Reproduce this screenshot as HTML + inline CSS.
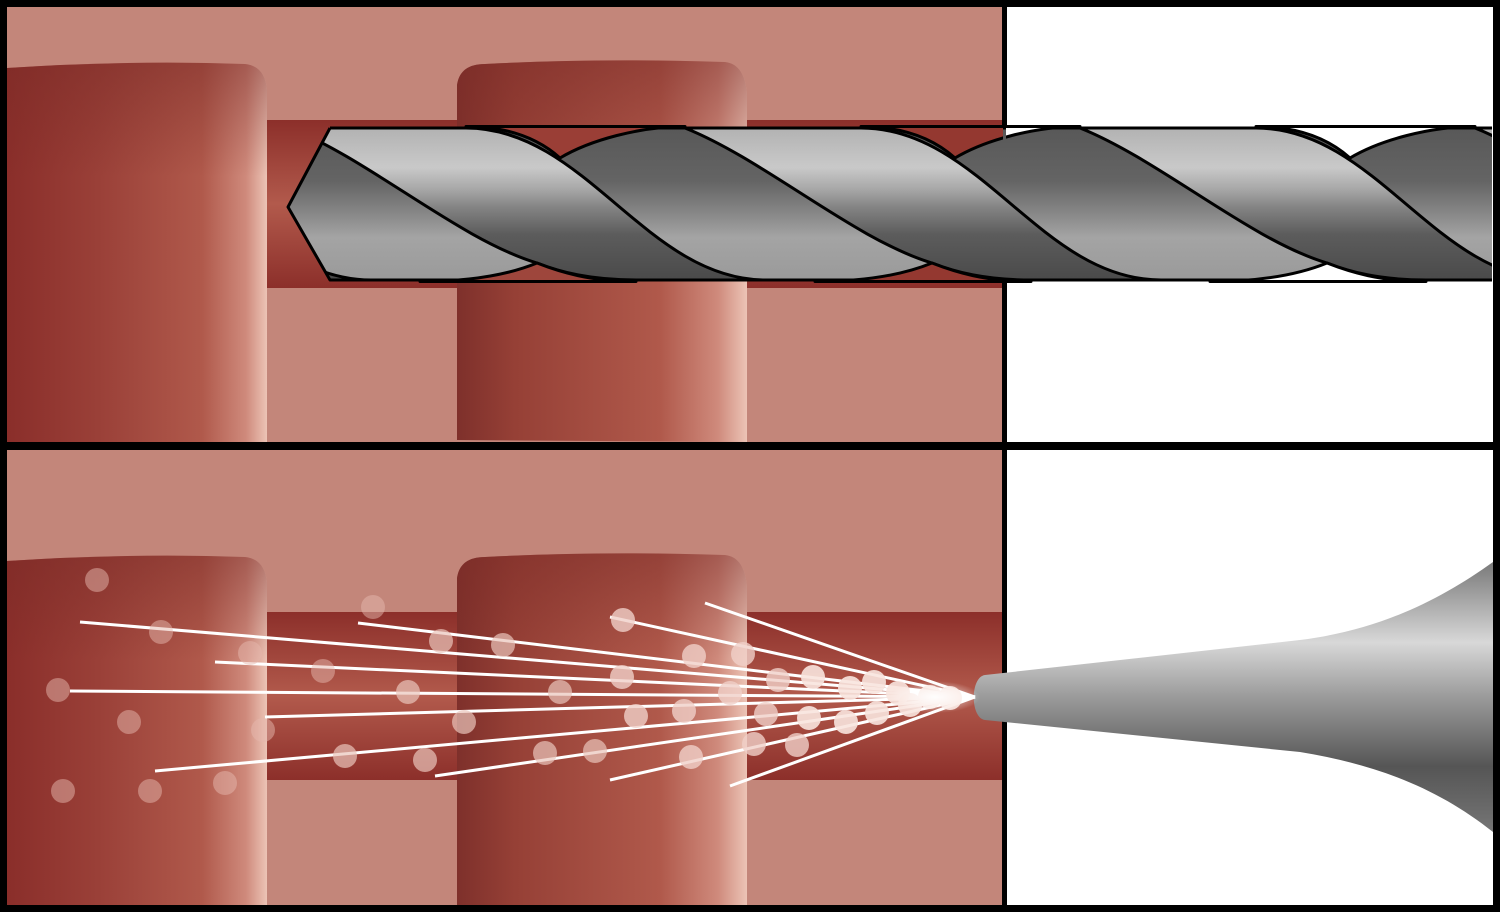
<!DOCTYPE html>
<html><head><meta charset="utf-8"><style>html,body{margin:0;padding:0;background:#000}svg{display:block}</style></head>
<body>
<svg width="1500" height="912" viewBox="0 0 1500 912" xmlns="http://www.w3.org/2000/svg">
<defs>
<linearGradient id="blk" x1="0" x2="1" y1="0" y2="0">
<stop offset="0" stop-color="#8a2e2a"/><stop offset="0.35" stop-color="#9a4038"/><stop offset="0.75" stop-color="#b0594b"/><stop offset="0.92" stop-color="#cf8a7c"/><stop offset="1" stop-color="#ecc4b6"/></linearGradient>
<linearGradient id="blk2" x1="0" x2="1" y1="0" y2="0">
<stop offset="0" stop-color="#7e302b"/><stop offset="0.2" stop-color="#964036"/><stop offset="0.7" stop-color="#b0594b"/><stop offset="0.9" stop-color="#cf8a7c"/><stop offset="1" stop-color="#ecc4b6"/></linearGradient>
<linearGradient id="topfade" x1="0" x2="0" y1="0" y2="1">
<stop offset="0" stop-color="#7a2a26" stop-opacity="0.5"/><stop offset="0.3" stop-color="#7a2a26" stop-opacity="0"/></linearGradient>
<linearGradient id="chan" x1="0" x2="0" y1="0" y2="1">
<stop offset="0" stop-color="#8c2f2a"/><stop offset="0.5" stop-color="#b25a4c"/><stop offset="1" stop-color="#8c2f2a"/></linearGradient>
<linearGradient id="lt" x1="0" x2="0" y1="128" y2="280" gradientUnits="userSpaceOnUse">
<stop offset="0" stop-color="#b2b2b2"/><stop offset="0.26" stop-color="#c9c9c9"/><stop offset="0.4" stop-color="#a8a8a8"/><stop offset="0.52" stop-color="#848484"/><stop offset="0.7" stop-color="#5c5c5c"/><stop offset="1" stop-color="#4a4a4a"/></linearGradient>
<linearGradient id="dk" x1="0" x2="0" y1="128" y2="280" gradientUnits="userSpaceOnUse">
<stop offset="0" stop-color="#585858"/><stop offset="0.35" stop-color="#646464"/><stop offset="0.55" stop-color="#858585"/><stop offset="0.72" stop-color="#a4a4a4"/><stop offset="1" stop-color="#9a9a9a"/></linearGradient>
<linearGradient id="noz" x1="0" x2="0" y1="560" y2="835" gradientUnits="userSpaceOnUse">
<stop offset="0" stop-color="#777"/><stop offset="0.3" stop-color="#d8d8d8"/><stop offset="0.5" stop-color="#9a9a9a"/><stop offset="0.75" stop-color="#555"/><stop offset="1" stop-color="#777"/></linearGradient>
<radialGradient id="glow" cx="0.5" cy="0.5" r="0.5">
<stop offset="0" stop-color="#fff" stop-opacity="0.95"/><stop offset="1" stop-color="#fff" stop-opacity="0"/></radialGradient>
<clipPath id="drill"><path d="M330,128 L1492,128 L1492,280 L330,280 L288,207 Z"/></clipPath>
<clipPath id="cl"><rect x="0" y="0" width="1003" height="450"/></clipPath>
<clipPath id="cr"><rect x="1006" y="0" width="487" height="450"/></clipPath>
</defs>
<rect width="1500" height="912" fill="#000"/>
<!-- top panel -->
<rect x="7" y="7" width="995" height="435" fill="#c3867a"/>
<rect x="1007" y="7" width="486" height="435" fill="#fff"/>
<rect x="260" y="120" width="744" height="168" fill="url(#chan)"/>
<path d="M7,68 Q130,60 245,64 Q265,66 267,90 L267,442 L7,442 Z" fill="url(#blk)"/>
<path d="M7,68 Q130,60 245,64 Q265,66 267,90 L267,442 L7,442 Z" fill="url(#topfade)"/>
<path d="M457,440 L457,85 Q460,64 485,64 Q600,58 725,62 Q745,64 747,95 L747,442 Z" fill="url(#blk2)"/>
<path d="M457,440 L457,85 Q460,64 485,64 Q600,58 725,62 Q745,64 747,95 L747,442 Z" fill="url(#topfade)"/>
<!-- bottom panel -->
<rect x="7" y="450" width="995" height="455" fill="#c3867a"/>
<rect x="1007" y="450" width="486" height="455" fill="#fff"/>
<rect x="260" y="612" width="744" height="168" fill="url(#chan)"/>
<path d="M7,561 Q130,553 245,557 Q265,559 267,583 L267,905 L7,905 Z" fill="url(#blk)"/>
<path d="M7,561 Q130,553 245,557 Q265,559 267,583 L267,905 L7,905 Z" fill="url(#topfade)"/>
<path d="M457,905 L457,578 Q460,557 485,557 Q600,551 725,555 Q745,557 747,588 L747,905 Z" fill="url(#blk2)"/>
<path d="M457,905 L457,578 Q460,557 485,557 Q600,551 725,555 Q745,557 747,588 L747,905 Z" fill="url(#topfade)"/>
<!-- dividers -->
<rect x="1002" y="0" width="5" height="912" fill="#000"/>
<rect x="0" y="442" width="1500" height="8" fill="#000"/>
<!-- drill -->
<g clip-path="url(#drill)">
<rect x="280" y="120" width="1220" height="170" fill="url(#dk)"/>
<g fill="url(#lt)" stroke="#000" stroke-width="3" stroke-linejoin="round">
<path d="M-105,128 L71,128 C191,128 251,280 371,280 L241,280 C195,280 165,272 142,263 C65,240 -25,160 -105,128 Z"/>
<path d="M290,128 L466,128 C586,128 646,280 766,280 L636,280 C590,280 560,272 537,263 C460,240 370,160 290,128 Z"/>
<path d="M685,128 L861,128 C981,128 1041,280 1161,280 L1031,280 C985,280 955,272 932,263 C855,240 765,160 685,128 Z"/>
<path d="M1080,128 L1256,128 C1376,128 1436,280 1556,280 L1426,280 C1380,280 1350,272 1327,263 C1250,240 1160,160 1080,128 Z"/>
<path d="M1475,128 L1651,128 C1771,128 1831,280 1951,280 L1821,280 C1775,280 1745,272 1722,263 C1645,240 1555,160 1475,128 Z"/>
</g>
</g>
<path d="M330,128 L1492,128 M1492,280 L330,280 L288,207 L330,128" fill="none" stroke="#000" stroke-width="3" stroke-linejoin="round"/>
<!-- notches (red, over channel) -->
<g stroke="#000" stroke-width="3" stroke-linejoin="round">
<path d="M466,126.5 C510,126.5 540,140 560,158 C590,140 640,126.5 685,126.5 Z" fill="#9a3e36"/>
<path d="M420,281.5 C480,281.5 515,272 537,263 C560,272 590,281.5 636,281.5 Z" fill="#9e463c"/>
<g clip-path="url(#cl)">
<path d="M861,126.5 C905,126.5 935,140 955,158 C985,140 1035,126.5 1080,126.5 Z" fill="#943830"/>
<path d="M815,281.5 C875,281.5 910,272 932,263 C955,272 985,281.5 1031,281.5 Z" fill="#943830"/>
</g>
<g clip-path="url(#cr)">
<path d="M861,126.5 C905,126.5 935,140 955,158 C985,140 1035,126.5 1080,126.5 Z" fill="#fff"/>
<path d="M815,281.5 C875,281.5 910,272 932,263 C955,272 985,281.5 1031,281.5 Z" fill="#fff"/>
</g>
<path d="M1256,126.5 C1300,126.5 1330,140 1350,158 C1380,140 1430,126.5 1475,126.5 Z" fill="#fff"/>
<path d="M1210,281.5 C1270,281.5 1305,272 1327,263 C1350,272 1380,281.5 1426,281.5 Z" fill="#fff"/>
</g>
<rect x="1493" y="110" width="7" height="185" fill="#000"/>
<!-- nozzle -->
<path d="M985,675 L1300,640 C1380,630 1440,600 1493,562 L1493,832 C1440,790 1380,765 1300,752 L985,720 C970,718 970,677 985,675 Z" fill="url(#noz)"/>
<!-- spray lines -->
<g stroke="#fff" stroke-width="3">
<line x1="975" y1="697" x2="80" y2="622"/>
<line x1="975" y1="697" x2="215" y2="662"/>
<line x1="975" y1="697" x2="70" y2="691"/>
<line x1="975" y1="697" x2="265" y2="717"/>
<line x1="975" y1="697" x2="155" y2="771"/>
<line x1="975" y1="697" x2="358" y2="623"/>
<line x1="975" y1="697" x2="610" y2="617"/>
<line x1="975" y1="697" x2="705" y2="603"/>
<line x1="975" y1="697" x2="435" y2="776"/>
<line x1="975" y1="697" x2="610" y2="780"/>
<line x1="975" y1="697" x2="730" y2="786"/>
</g>
<g fill="#e6b8ae" fill-opacity="0.5">
<circle cx="97" cy="580" r="12"/><circle cx="161" cy="632" r="12"/><circle cx="250" cy="653" r="12"/><circle cx="58" cy="690" r="12"/><circle cx="129" cy="722" r="12"/><circle cx="63" cy="791" r="12"/><circle cx="150" cy="791" r="12"/><circle cx="225" cy="783" r="12"/><circle cx="263" cy="730" r="12"/><circle cx="323" cy="671" r="12"/><circle cx="373" cy="607" r="12"/>
</g>
<g fill="#eac4ba" fill-opacity="0.7">
<circle cx="441" cy="641" r="12"/><circle cx="503" cy="645" r="12"/><circle cx="408" cy="692" r="12"/><circle cx="464" cy="722" r="12"/><circle cx="345" cy="756" r="12"/><circle cx="425" cy="760" r="12"/><circle cx="545" cy="753" r="12"/><circle cx="595" cy="751" r="12"/><circle cx="560" cy="692" r="12"/>
</g>
<g fill="#f0d0c8" fill-opacity="0.8">
<circle cx="623" cy="620" r="12"/><circle cx="622" cy="677" r="12"/><circle cx="636" cy="716" r="12"/><circle cx="684" cy="711" r="12"/><circle cx="694" cy="656" r="12"/><circle cx="743" cy="654" r="12"/><circle cx="691" cy="757" r="12"/><circle cx="754" cy="744" r="12"/><circle cx="797" cy="745" r="12"/><circle cx="730" cy="693" r="12"/><circle cx="766" cy="714" r="12"/><circle cx="778" cy="680" r="12"/>
</g>
<g fill="#f8e4de" fill-opacity="0.9">
<circle cx="813" cy="677" r="12"/><circle cx="809" cy="718" r="12"/><circle cx="846" cy="722" r="12"/><circle cx="850" cy="688" r="12"/><circle cx="874" cy="682" r="12"/><circle cx="877" cy="713" r="12"/><circle cx="898" cy="693" r="12"/><circle cx="910" cy="705" r="12"/><circle cx="930" cy="697" r="12"/><circle cx="950" cy="698" r="12"/>
</g>
<ellipse cx="935" cy="697" rx="45" ry="16" fill="url(#glow)"/>
</svg>
</body></html>
